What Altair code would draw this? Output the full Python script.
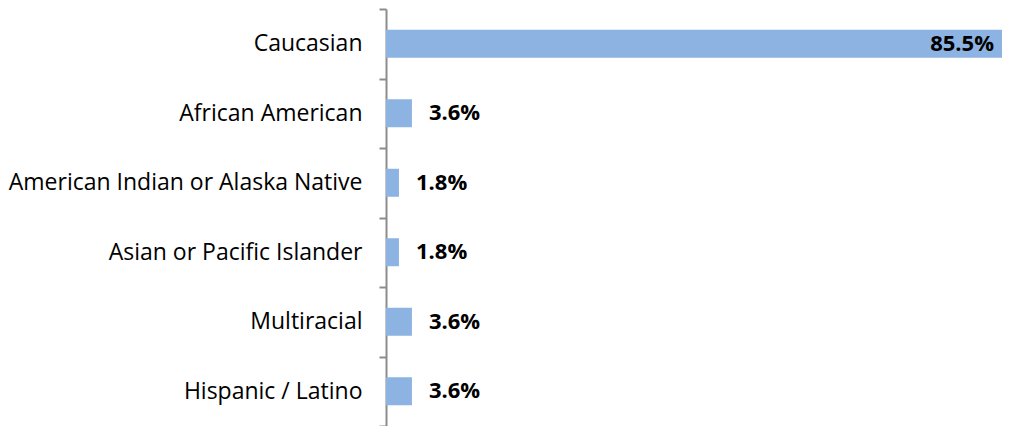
import altair as alt
import pandas as pd

categories = [
    "Caucasian",
    "African American",
    "American Indian or Alaska Native",
    "Asian or Pacific Islander",
    "Multiracial",
    "Hispanic / Latino",
]
values = [85.5, 3.6, 1.8, 1.8, 3.6, 3.6]
labels = ["85.5%", "3.6%", "1.8%", "1.8%", "3.6%", "3.6%"]
inside = [True, False, False, False, False, False]

df = pd.DataFrame({"cat": categories, "val": values, "lab": labels, "inside": inside})

FONT = "Open Sans"
BAR = "#8DB3E2"

y_enc = alt.Y(
    "cat:N",
    sort=categories,
    title=None,
    scale=alt.Scale(paddingInner=0, paddingOuter=0),
    axis=alt.Axis(
        labelFont=FONT,
        labelFontSize=23,
        labelColor="#000000",
        labelPadding=17,
        tickBand="extent",
        tickSize=7,
        tickColor="#8c8c8c",
        tickWidth=2,
        domainColor="#8c8c8c",
        domainWidth=2,
        labelLimit=400,
    ),
)
x_enc = alt.X(
    "val:Q",
    title=None,
    scale=alt.Scale(domain=[0, 85.5], nice=False, zero=True),
    axis=None,
)

bars = alt.Chart(df).mark_bar(color=BAR, size=28).encode(x=x_enc, y=y_enc)

text_out = (
    alt.Chart(df)
    .transform_filter("!datum.inside")
    .mark_text(align="left", baseline="middle", dx=17, font=FONT, fontSize=22, fontWeight="bold", color="#000000")
    .encode(x=x_enc, y=alt.Y("cat:N", sort=categories), text="lab:N")
)
text_in = (
    alt.Chart(df)
    .transform_filter("datum.inside")
    .mark_text(align="right", baseline="middle", dx=-8, font=FONT, fontSize=22, fontWeight="bold", color="#000000")
    .encode(x=x_enc, y=alt.Y("cat:N", sort=categories), text="lab:N")
)

chart = (
    alt.layer(bars, text_out, text_in)
    .properties(
        width=616,
        height=417,
        autosize=alt.AutoSizeParams(type="none"),
        padding={"left": 378, "top": 1, "right": 0, "bottom": 0},
    )
    .configure_view(stroke=None)
)

chart.save("out.html", embed_options={"renderer": "svg", "actions": False})
